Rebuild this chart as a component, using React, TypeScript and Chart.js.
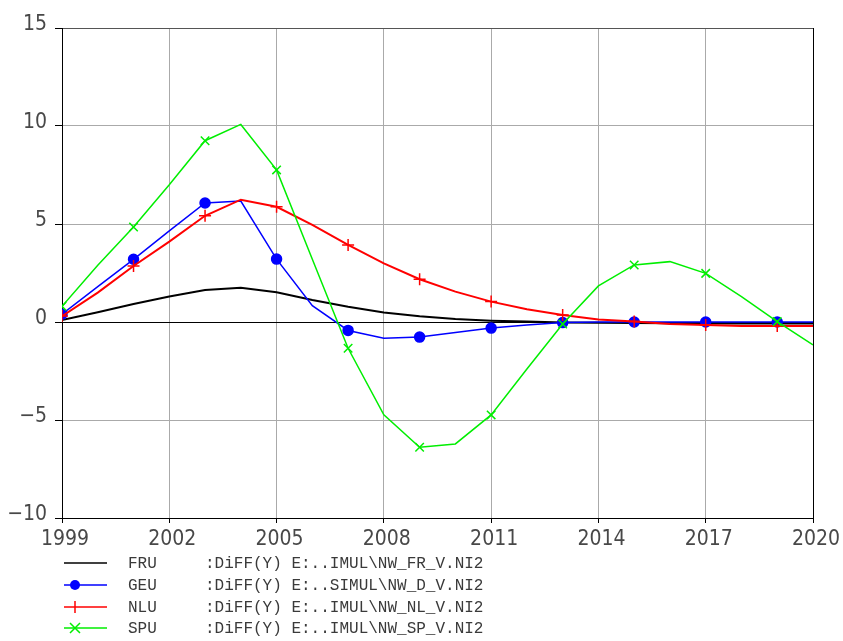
import React, { useEffect, useRef } from "react";
import { Chart, registerables } from "chart.js";

Chart.register(...registerables);

const years = [1999, 2000, 2001, 2002, 2003, 2004, 2005, 2006, 2007, 2008, 2009, 2010, 2011, 2012, 2013, 2014, 2015, 2016, 2017, 2018, 2019, 2020];
const fru = [0.1, 0.5, 0.92, 1.3, 1.63, 1.75, 1.52, 1.12, 0.78, 0.49, 0.29, 0.15, 0.07, 0.02, -0.02, -0.04, -0.05, -0.07, -0.08, -0.08, -0.08, -0.08];
const geu = [0.4, 1.8, 3.2, 4.65, 6.07, 6.17, 3.21, 0.83, -0.43, -0.83, -0.77, -0.54, -0.31, -0.15, -0.03, 0, 0, 0, 0, 0, 0, 0];
const nlu = [0.3, 1.5, 2.86, 4.1, 5.42, 6.24, 5.88, 4.95, 3.93, 2.99, 2.18, 1.55, 1.04, 0.65, 0.36, 0.13, 0.02, -0.1, -0.15, -0.2, -0.2, -0.2];
const spu = [0.8, 2.9, 4.85, 7.0, 9.25, 10.08, 7.76, 3.2, -1.34, -4.74, -6.39, -6.22, -4.74, -2.4, -0.1, 1.84, 2.91, 3.08, 2.48, 1.29, 0.02, -1.17];
const xTicks = [1999, 2002, 2005, 2008, 2011, 2014, 2017, 2020];
const seriesNames = ["FRU", "GEU", "NLU", "SPU"];
const seriesSources = [
  ":DiFF(Y) E:..IMUL\\NW_FR_V.NI2",
  ":DiFF(Y) E:..SIMUL\\NW_D_V.NI2",
  ":DiFF(Y) E:..IMUL\\NW_NL_V.NI2",
  ":DiFF(Y) E:..IMUL\\NW_SP_V.NI2",
];
const colors = ["#000000", "#0000ff", "#ff0000", "#00ee00"];
const markerStyles = [false, "circle", "cross", "crossRot"];
const markerRadius = [0, 5, 6, 6];

const toPoints = (vals: number[]) => vals.map((v, i) => ({ x: years[i], y: v }));
const radii = (r: number) => years.map((_, i) => (i % 2 === 0 ? r : 0));

const legendPlugin = {
  id: "customLegend",
  afterDraw(chart: any) {
    const ctx = chart.ctx;
    ctx.save();
    const rowY = [563, 585, 607, 628];
    seriesNames.forEach((name, i) => {
      const y = rowY[i];
      ctx.strokeStyle = colors[i];
      ctx.lineWidth = 1.5;
      ctx.beginPath();
      ctx.moveTo(64, y);
      ctx.lineTo(107, y);
      ctx.stroke();
      const mx = 75;
      const st = markerStyles[i];
      if (st === "circle") {
        ctx.fillStyle = colors[i];
        ctx.beginPath();
        ctx.arc(mx, y, 5, 0, Math.PI * 2);
        ctx.fill();
      } else if (st === "cross") {
        ctx.beginPath();
        ctx.moveTo(mx, y - 6);
        ctx.lineTo(mx, y + 6);
        ctx.stroke();
      } else if (st === "crossRot") {
        ctx.beginPath();
        ctx.moveTo(mx - 5, y - 5);
        ctx.lineTo(mx + 5, y + 5);
        ctx.moveTo(mx + 5, y - 5);
        ctx.lineTo(mx - 5, y + 5);
        ctx.stroke();
      }
      ctx.fillStyle = "#3a3a3a";
      ctx.font = "16px 'Liberation Mono', 'DejaVu Sans Mono', monospace";
      ctx.textBaseline = "middle";
      ctx.textAlign = "left";
      ctx.fillText(name, 128, y + 1);
      ctx.fillText(seriesSources[i], 205, y + 1);
    });
    ctx.restore();
  },
};

export default function App() {
  const ref = useRef<HTMLCanvasElement | null>(null);
  useEffect(() => {
    if (!ref.current) return;
    const seriesData = [fru, geu, nlu, spu];
    const tickFont = { family: "'Liberation Sans Narrow', 'DejaVu Sans Condensed', 'Liberation Sans', sans-serif", size: 21 };
    const chart = new Chart(ref.current, {
      type: "line",
      data: {
        datasets: seriesData.map((vals, i) => ({
          label: seriesNames[i],
          data: toPoints(vals),
          borderColor: colors[i],
          backgroundColor: colors[i],
          borderWidth: i === 0 || i === 2 ? 2 : 1.5,
          pointStyle: markerStyles[i] as any,
          pointRadius: radii(markerRadius[i]),
          pointBorderWidth: 1.5,
          pointBorderColor: colors[i],
          pointBackgroundColor: colors[i],
          tension: 0,
          order: 3 - i,
        })),
      },
      options: {
        animation: false,
        responsive: false,
        layout: { padding: { left: 0, top: 28, right: 30, bottom: 0 } },
        plugins: { legend: { display: false }, tooltip: { enabled: false } },
        scales: {
          x: {
            type: "linear",
            min: 1999,
            max: 2020,
            afterBuildTicks: (scale: any) => {
              scale.ticks = xTicks.map((v) => ({ value: v }));
            },
            afterFit: (scale: any) => {
              scale.height = 123;
            },
            ticks: {
              callback: (v: any) => String(v),
              font: tickFont,
              color: "#484848",
              padding: 4,
              labelOffset: 3,
              maxRotation: 0,
              autoSkip: false,
            },
            grid: {
              color: (c: any) => (c.tick && c.tick.value === 2020 ? "#000" : "#aaa"),
              tickColor: "#000",
              tickLength: 5,
              lineWidth: 1,
            },
            border: { display: true, color: "#000", width: 1 },
          },
          y: {
            min: -10,
            max: 15,
            ticks: {
              stepSize: 5,
              font: tickFont,
              color: "#484848",
              padding: 8,
              labelOffset: -3,
              callback: (v: any) => String(v).replace("-", "\u2212"),
            },
            afterFit: (scale: any) => {
              scale.width = 62;
            },
            grid: {
              color: (c: any) =>
                c.tick && c.tick.value === 0 ? "#000" : c.tick && c.tick.value === 15 ? "#555" : "#aaa",
              tickColor: "#000",
              tickLength: 7,
              lineWidth: 1,
            },
            border: { display: true, color: "#000", width: 1 },
          },
        },
      },
      plugins: [legendPlugin],
    } as any);
    return () => chart.destroy();
  }, []);
  return (
    <div style={{ position: "absolute", left: 0, top: 0, width: 843, height: 641, background: "#fff" }}>
      <canvas ref={ref} width={843} height={641} style={{ display: "block" }} />
    </div>
  );
}
